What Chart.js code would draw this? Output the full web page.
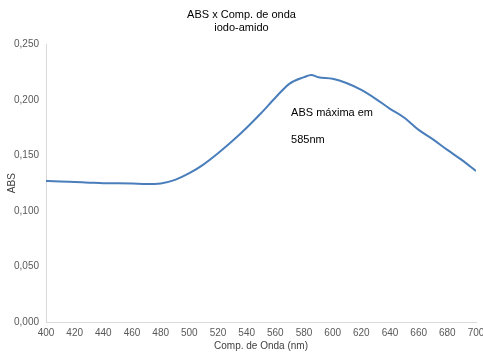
<!DOCTYPE html>
<html>
<head>
<meta charset="utf-8">
<script src="https://cdn.jsdelivr.net/npm/chart.js@4/dist/chart.umd.min.js"></script>
<style>
  html, body { margin: 0; padding: 0; background: #fff; }
  #wrap { width: 483px; height: 352px; }
</style>
</head>
<body>
<div id="wrap"><canvas id="absChart" width="483" height="352"></canvas></div>
<script>
// wavelength (nm) and absorbance
const wavelengths = [400, 410, 420, 430, 440, 450, 460, 470, 480, 490, 500, 510, 520, 530, 540, 550, 560, 570, 580, 585, 590, 600, 610, 620, 630, 640, 650, 660, 670, 680, 690, 700];
const absValues = [0.127, 0.1265, 0.126, 0.1255, 0.125, 0.125, 0.1248, 0.1243, 0.1248, 0.128, 0.134, 0.142, 0.152, 0.163, 0.175, 0.188, 0.202, 0.2147, 0.2205, 0.2225, 0.2205, 0.219, 0.215, 0.209, 0.201, 0.192, 0.184, 0.173, 0.1645, 0.155, 0.146, 0.136];
const noteLines = ['ABS máxima em', '585nm'];

const points = wavelengths.map((w, i) => ({ x: w, y: absValues[i] }));

// annotation text placed in data coordinates
const notePlugin = {
    id: 'note',
    afterDatasetsDraw(chart) {
        const { ctx, scales } = chart;
        const x = scales.x.getPixelForValue(571);
        const y = scales.y.getPixelForValue(0.188);
        ctx.save();
        ctx.fillStyle = '#000';
        ctx.font = '11px "Liberation Sans", Arial, sans-serif';
        ctx.textBaseline = 'middle';
        ctx.fillText(noteLines[0], x, y);
        ctx.fillText(noteLines[1], x, y + 27);
        ctx.restore();
    }
};

const ctx = document.getElementById('absChart').getContext('2d');
new Chart(ctx, {
    type: 'line',
    data: {
        datasets: [{
            data: points,
            borderColor: '#4a7ebb',
            borderWidth: 2,
            pointRadius: 0,
            tension: 0.4,
            cubicInterpolationMode: 'monotone',
            fill: false
        }]
    },
    options: {
        responsive: false,
        animation: false,
        layout: { padding: { left: 0, right: 0, top: 0, bottom: 0 } },
        plugins: {
            legend: { display: false },
            tooltip: { enabled: false },
            title: {
                display: true,
                text: ['ABS x Comp. de onda', 'iodo-amido'],
                color: '#000',
                font: { family: '"Liberation Sans", Arial, sans-serif', size: 11, weight: 'normal', lineHeight: 1.2 },
                padding: { top: 8, bottom: 10 }
            }
        },
        scales: {
            x: {
                type: 'linear',
                min: 400,
                max: 700,
                grid: { display: false, drawTicks: false },
                border: { display: true, color: '#d9d9d9', width: 1 },
                ticks: {
                    stepSize: 20,
                    padding: 5,
                    color: '#595959',
                    font: { family: '"Liberation Sans", Arial, sans-serif', size: 10 },
                    maxRotation: 0
                },
                title: {
                    display: true,
                    text: 'Comp. de Onda (nm)',
                    color: '#404040',
                    font: { family: '"Liberation Sans", Arial, sans-serif', size: 10 },
                    padding: { top: 2, bottom: 0 }
                },
                afterFit(scale) {
                    scale.height = 30;
                    scale.paddingRight = 7;
                }
            },
            y: {
                min: 0,
                max: 0.25,
                grid: { display: false, drawTicks: false },
                border: { display: true, color: '#d9d9d9', width: 1 },
                ticks: {
                    stepSize: 0.05,
                    padding: 7,
                    color: '#595959',
                    font: { family: '"Liberation Sans", Arial, sans-serif', size: 10 },
                    callback: v => v.toFixed(3).replace('.', ',')
                },
                title: {
                    display: true,
                    text: 'ABS',
                    color: '#404040',
                    font: { family: '"Liberation Sans", Arial, sans-serif', size: 10 },
                    padding: { top: 6, bottom: 0 }
                },
                afterFit(scale) { scale.width = 46; }
            }
        }
    },
    plugins: [notePlugin]
});
</script>
</body>
</html>
